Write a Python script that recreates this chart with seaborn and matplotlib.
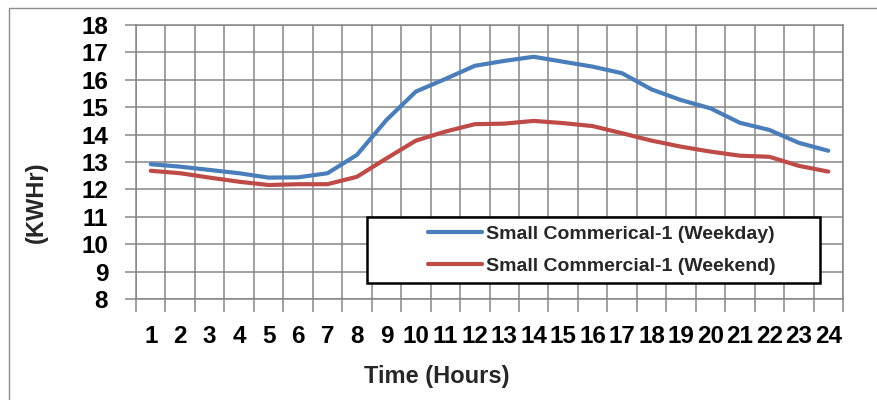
import numpy as np
import pandas as pd
import matplotlib
matplotlib.use("Agg")
import matplotlib.pyplot as plt
from matplotlib.lines import Line2D
from matplotlib.patches import Rectangle
import seaborn as sns

hours = list(range(1, 25))
weekday = [12.92, 12.83, 12.71, 12.59, 12.43, 12.44, 12.59, 13.26, 14.53, 15.57,
           16.03, 16.51, 16.69, 16.84, 16.66, 16.48, 16.24, 15.65, 15.26, 14.96,
           14.43, 14.17, 13.70, 13.41]
weekend = [12.68, 12.59, 12.43, 12.28, 12.16, 12.19, 12.19, 12.46, 13.13, 13.78,
           14.11, 14.38, 14.40, 14.50, 14.42, 14.31, 14.05, 13.78, 13.56, 13.38,
           13.23, 13.19, 12.86, 12.65]
series_names = ["Small Commerical-1 (Weekday)", "Small Commercial-1 (Weekend)"]
y_ticks = list(range(8, 19))

sns.set_theme(style="white")
plt.rcParams["font.family"] = ["Liberation Sans", "DejaVu Sans"]
plt.rcParams["font.weight"] = "bold"

df = pd.DataFrame({
    "hour": hours * 2,
    "kwh": weekday + weekend,
    "series": [series_names[0]] * 24 + [series_names[1]] * 24,
})
palette = {series_names[0]: "#4A7EBB", series_names[1]: "#BE4B48"}

W, H = 878, 400
fig = plt.figure(figsize=(W / 100, H / 100), dpi=100)
ax = fig.add_axes([136 / W, 1 - 299 / H, (843 - 136) / W, (299 - 25) / H])

sns.lineplot(data=df, x="hour", y="kwh", hue="series", palette=palette,
             linewidth=3.0, ax=ax, legend=False, solid_capstyle="round")

grid_c = "#868686"
ax.set_xlim(0.5, 24.5)
ax.set_ylim(8, 18)
ax.set_xticks(hours)
ax.set_xticklabels([str(h) for h in hours], fontsize=17.5, fontweight="bold")
ax.set_xticks(np.arange(0.5, 25, 1), minor=True)
ax.tick_params(axis="x", which="major", length=0, pad=19, colors="black")
ax.tick_params(axis="x", which="minor", length=9, width=1.1, color=grid_c,
               direction="out", bottom=True)
ax.set_yticks(y_ticks)
ax.set_yticklabels([str(v) for v in y_ticks], fontsize=17.5, fontweight="bold")
ax.tick_params(axis="y", which="major", length=8, width=1.1, color=grid_c,
               direction="out", left=True, pad=12, labelcolor="black")
ax.grid(True, axis="y", which="major", color=grid_c, linewidth=1.1)
ax.grid(True, axis="x", which="minor", color=grid_c, linewidth=1.1)
ax.grid(False, axis="x", which="major")
for s in ax.spines.values():
    s.set_color(grid_c)
    s.set_linewidth(1.1)
ax.set_xlabel("")
ax.set_ylabel("")

fig.text(36 / W, 1 - 202 / H, "(KWHr)", rotation=90, fontsize=17,
         fontweight="bold", ha="center", va="center")
fig.text(437 / W, 1 - 376 / H, "Time (Hours)", fontsize=17,
         fontweight="bold", ha="center", va="center")

# legend box drawn as its own patch, entries placed inside it
ax.add_patch(Rectangle((367 / W, 1 - 283 / H), (820 - 367) / W, (283 - 217) / H,
                       transform=fig.transFigure, facecolor="white",
                       edgecolor="black", linewidth=1.8, zorder=4,
                       clip_on=False))
handles = [Line2D([], [], color=palette[n], linewidth=3.0, solid_capstyle="round")
           for n in series_names]
leg = ax.legend(handles, series_names, loc="center left",
                bbox_to_anchor=(428 / W, 1 - 250 / H),
                bbox_transform=fig.transFigure,
                prop={"size": 14, "weight": "bold"}, frameon=False,
                handlelength=2.8, handletextpad=0.2, borderpad=0,
                labelspacing=0.72, borderaxespad=0)
leg.set_zorder(5)

fig.patches.append(Rectangle((9 / W, -0.1), 1.0, 1 - 8 / H + 0.1,
                             transform=fig.transFigure, fill=False,
                             edgecolor="#8c8c8c", linewidth=1.0))

fig.savefig("out.png", dpi=100)
